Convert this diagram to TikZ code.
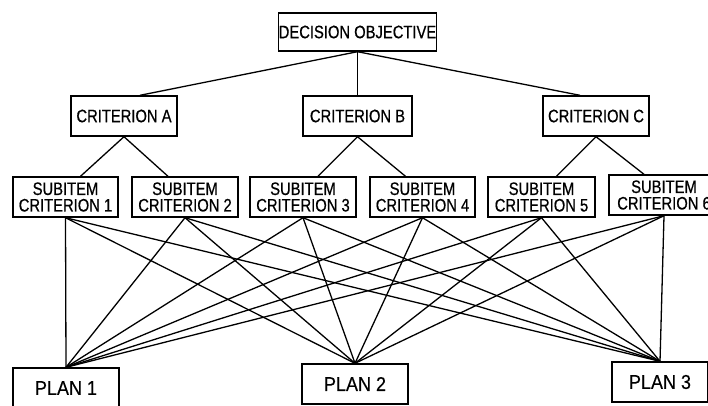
\documentclass[tikz,border=0pt]{standalone}
\usepackage{fontspec}
\newfontfamily\boxfont[FakeStretch=0.82,FakeBold=0.6]{Liberation Sans}
\newfontfamily\planfont[FakeStretch=0.9,FakeBold=0.3]{Liberation Sans}
\usetikzlibrary{positioning}
\tikzset{>=latex}

\begin{document}
\begin{tikzpicture}[x=1pt,y=-1pt,
  box/.style={draw,line width=1.4pt,inner sep=0pt,minimum height=40pt,
    align=center,font=\boxfont\fontsize{18}{16.5}\selectfont},
  planbox/.style={box,font=\planfont\fontsize{20}{22}\selectfont},
  link/.style={line width=1.3pt}]
\clip (0,0) rectangle (708,405);
% top
\node[box,minimum width=151pt,minimum height=38pt] (goal) at (357.5,32) {DECISION OBJECTIVE};
% criteria
\node[box,minimum width=106pt] (crA) at (124,116) {CRITERION A};
\node[box,minimum width=109pt] (crB) at (357.5,116) {CRITERION B};
\node[box,minimum width=106pt] (crC) at (596,116) {CRITERION C};
% subitems
\node[box,minimum width=105pt] (s1) at (65.5,197) {SUBITEM\\CRITERION 1};
\node[box,minimum width=106pt] (s2) at (185,197) {SUBITEM\\CRITERION 2};
\node[box,minimum width=106pt] (s3) at (303,197) {SUBITEM\\CRITERION 3};
\node[box,minimum width=105pt] (s4) at (422.5,197) {SUBITEM\\CRITERION 4};
\node[box,minimum width=107pt] (s5) at (541.5,197) {SUBITEM\\CRITERION 5};
\node[box,minimum width=110pt] (s6) at (664,195) {SUBITEM\\CRITERION 6};
% plans
\node[planbox,minimum width=106pt] (p1) at (66,388) {PLAN 1};
\node[planbox,minimum width=106pt] (p2) at (355,384) {PLAN 2};
\node[planbox,minimum width=96pt] (p3) at (660,382) {PLAN 3};

\draw[link] (goal.south) -- ([xshift=16pt]crA.north);
\draw[link] (goal.south) -- (crB.north);
\draw[link] (goal.south) -- ([xshift=-16pt]crC.north);
\draw[link] (crA.south) -- ([xshift=15pt]s1.north);
\draw[link] (crA.south) -- ([xshift=-17pt]s2.north);
\draw[link] (crB.south) -- ([xshift=15pt]s3.north);
\draw[link] (crB.south) -- ([xshift=-17pt]s4.north);
\draw[link] (crC.south) -- ([xshift=15pt]s5.north);
\draw[link] (crC.south) -- ([xshift=-20pt]s6.north);
\foreach \s in {1,...,6}
  \foreach \p in {1,2,3}
    \draw[link] ([xshift=\ifnum\s=6 -3pt\else 0pt\fi]s\s.south) -- (p\p.north);
\end{tikzpicture}
\end{document}
